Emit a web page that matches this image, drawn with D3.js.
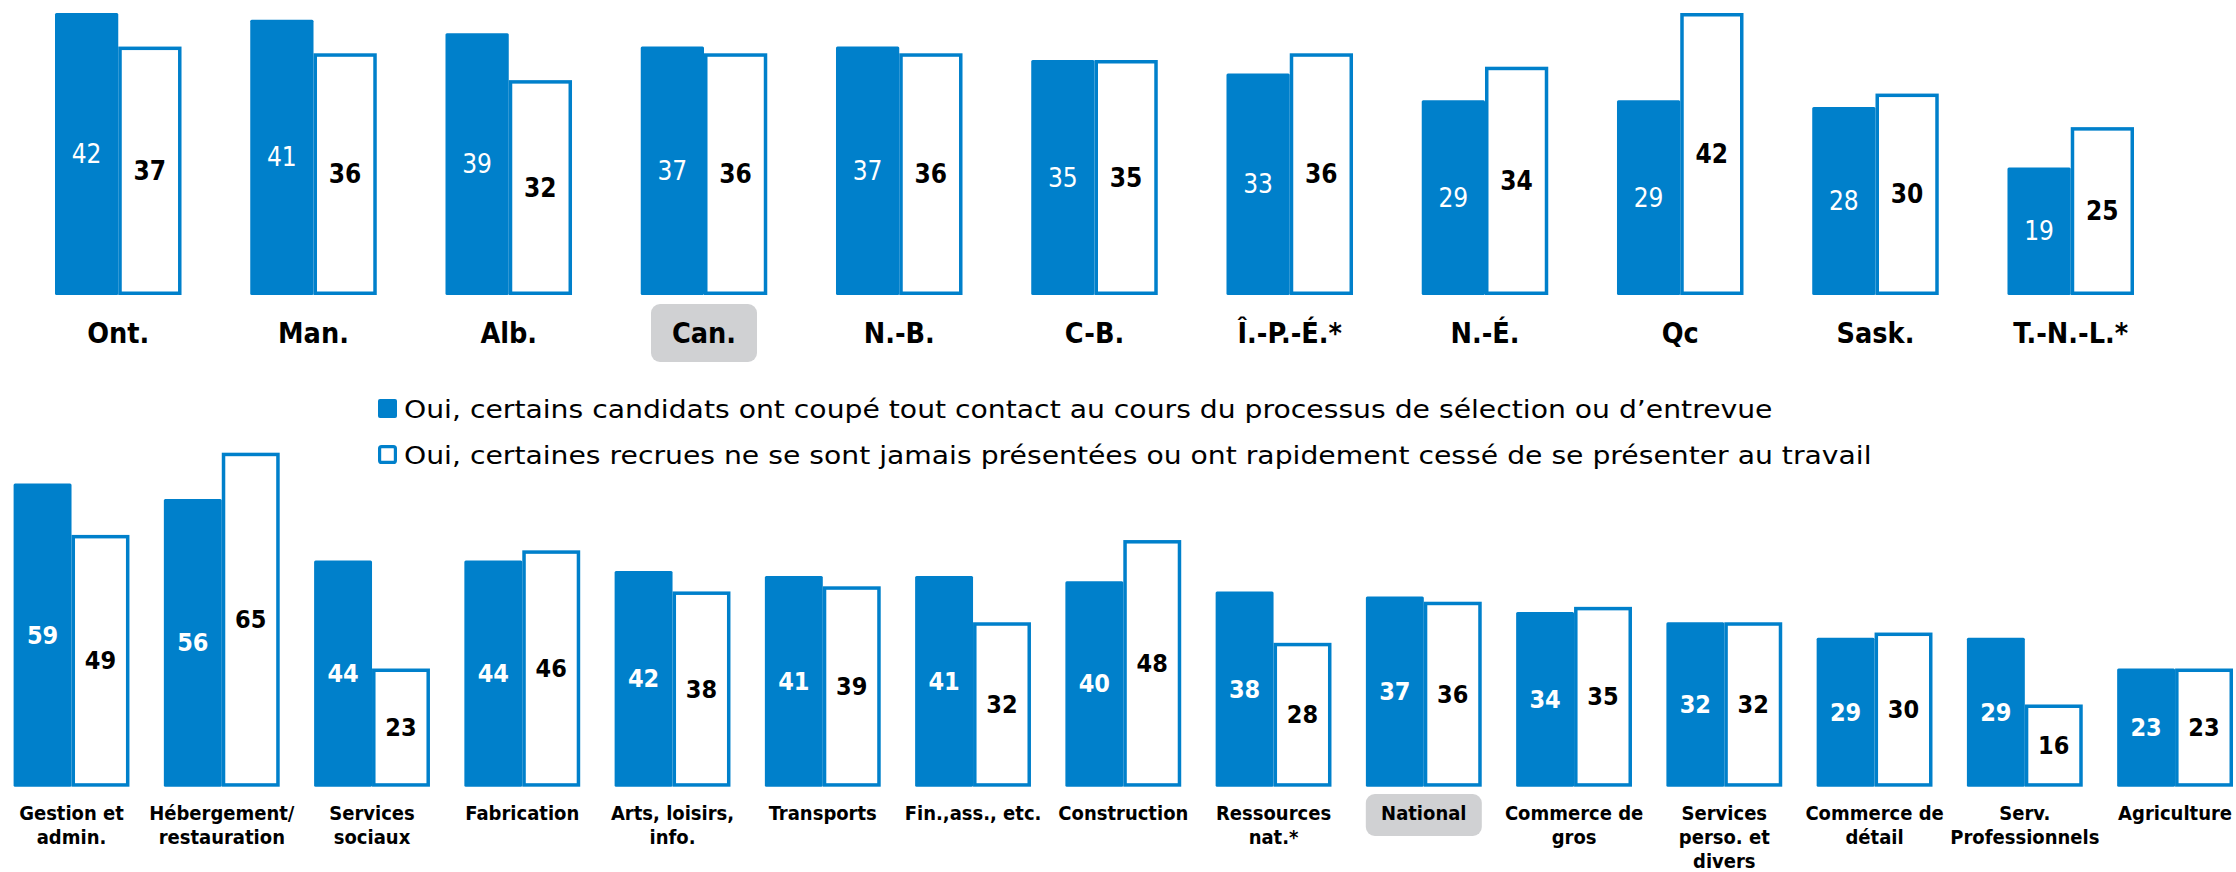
<!DOCTYPE html>
<html>
<head>
<meta charset="utf-8">
<script src="https://cdn.jsdelivr.net/npm/d3@7"></script>
<style>
  body { margin: 0; background: #fff; }
  svg { display: block; }
</style>
</head>
<body>
<svg id="chart"></svg>
<script>
// provinces (top panel)
var provinces = ["Ont.", "Man.", "Alb.", "Can.", "N.-B.", "C-B.", "Î.-P.-É.*", "N.-É.", "Qc", "Sask.", "T.-N.-L.*"]
var provCandidats = [42, 41, 39, 37, 37, 35, 33, 29, 29, 28, 19]
var provRecrues = [37, 36, 32, 36, 36, 35, 36, 34, 42, 30, 25]

// sectors (bottom panel), "|" marks a line break in the tick label
var secteurs = ["Gestion et|admin.", "Hébergement/|restauration", "Services|sociaux", "Fabrication",
  "Arts, loisirs,|info.", "Transports", "Fin.,ass., etc.", "Construction", "Ressources|nat.*",
  "National", "Commerce de|gros", "Services|perso. et|divers", "Commerce de|détail",
  "Serv.|Professionnels", "Agriculture"]
var secCandidats = [59, 56, 44, 44, 42, 41, 41, 40, 38, 37, 34, 32, 29, 29, 23]
var secRecrues = [49, 65, 23, 46, 38, 39, 32, 48, 28, 36, 35, 32, 30, 16, 23]

var legendLabels = [
  "Oui, certains candidats ont coupé tout contact au cours du processus de sélection ou d’entrevue",
  "Oui, certaines recrues ne se sont jamais présentées ou ont rapidement cessé de se présenter au travail"
]

var blue = "#0080cb",
    grey = "#d0d1d3",
    sw = 3.5,
    condensed = "'DejaVu Sans Condensed', 'DejaVu Sans', sans-serif"

var width = 2236, height = 872

var svg = d3.select("#chart")
  .attr("width", width)
  .attr("height", height)
  .style("font-family", condensed)

function panel(cfg) {
  var x0 = d3.scaleBand()
    .domain(cfg.cats)
    .range(cfg.xRange)
    .paddingInner(cfg.pad)
    .paddingOuter(0)

  var x1 = d3.scaleBand()
    .domain(["candidats", "recrues"])
    .range([0, x0.bandwidth()])

  var y = d3.scaleLinear()
    .domain([0, cfg.max])
    .range([cfg.base, cfg.top])

  var data = cfg.cats.map(function(c, i) {
    return {cat: c, a: cfg.a[i], b: cfg.b[i]}
  })

  var grp = svg.append("g")
    .selectAll("g")
    .data(data)
    .join("g")
    .attr("transform", function(d) { return "translate(" + x0(d.cat) + ",0)" })

  // grey box behind the total (Canada / National)
  grp.filter(function(d) { return d.cat == cfg.highlight })
    .append("rect")
    .attr("x", x0.bandwidth() / 2 - cfg.box.w / 2)
    .attr("y", cfg.box.y)
    .attr("width", cfg.box.w)
    .attr("height", cfg.box.h)
    .attr("rx", 9)
    .attr("fill", grey)

  // filled bars
  grp.append("rect")
    .attr("x", x1("candidats"))
    .attr("y", function(d) { return y(d.a) })
    .attr("width", x1.bandwidth())
    .attr("height", function(d) { return y(0) - y(d.a) })
    .attr("rx", 1.5)
    .attr("fill", blue)

  // outlined bars
  grp.append("rect")
    .attr("x", x1("recrues") + sw / 2)
    .attr("y", function(d) { return y(d.b) + sw / 2 })
    .attr("width", x1.bandwidth() - sw)
    .attr("height", function(d) { return y(0) - y(d.b) - sw })
    .attr("fill", "#fff")
    .attr("stroke", blue)
    .attr("stroke-width", sw)

  // value labels
  grp.append("text")
    .attr("x", x1("candidats") + x1.bandwidth() / 2)
    .attr("y", function(d) { return (y(d.a) + y(0)) / 2 })
    .attr("text-anchor", "middle")
    .attr("dominant-baseline", "central")
    .attr("fill", "#fff")
    .attr("font-weight", cfg.whiteWeight)
    .style("font-size", cfg.valueSize + "px")
    .text(function(d) { return d.a })

  grp.append("text")
    .attr("x", x1("recrues") + x1.bandwidth() / 2)
    .attr("y", function(d) { return (y(d.b) + y(0)) / 2 })
    .attr("text-anchor", "middle")
    .attr("dominant-baseline", "central")
    .attr("fill", "#000")
    .attr("font-weight", "bold")
    .style("font-size", cfg.valueSize + "px")
    .text(function(d) { return d.b })

  // category labels
  grp.append("text")
    .attr("text-anchor", "middle")
    .attr("font-weight", "bold")
    .attr("fill", "#000")
    .style("font-size", cfg.labelSize + "px")
    .selectAll("tspan")
    .data(function(d) { return d.cat.split("|") })
    .join("tspan")
    .attr("x", x0.bandwidth() / 2)
    .attr("y", function(d, i) { return cfg.labelY + i * cfg.lineH })
    .text(function(d) { return d })
}

// top panel: provinces
panel({
  cats: provinces, a: provCandidats, b: provRecrues,
  xRange: [55, 2134], pad: 0.352,
  max: 42, base: 295, top: 13,
  whiteWeight: "normal", valueSize: 26,
  labelSize: 28.5, labelY: 343, lineH: 30,
  highlight: "Can.", box: {w: 106, y: 304, h: 58}
})

// bottom panel: sectors
panel({
  cats: secteurs, a: secCandidats, b: secRecrues,
  xRange: [13.6, 2233], pad: 0.229,
  max: 65, base: 786.7, top: 452.7,
  whiteWeight: "bold", valueSize: 25,
  labelSize: 20, labelY: 820, lineH: 24,
  highlight: "National", box: {w: 116, y: 794, h: 42}
})

// legend
var legend = svg.append("g")
  .selectAll("g")
  .data(legendLabels)
  .join("g")
  .attr("transform", function(d, i) { return "translate(378," + (399 + i * 46) + ")" })

legend.append("rect")
  .attr("x", function(d, i) { return i ? 1.6 : 0 })
  .attr("y", function(d, i) { return i ? 1.6 : 0 })
  .attr("width", function(d, i) { return i ? 15.8 : 19 })
  .attr("height", function(d, i) { return i ? 15.8 : 19 })
  .attr("rx", 2)
  .attr("fill", function(d, i) { return i ? "#fff" : blue })
  .attr("stroke", function(d, i) { return i ? blue : "none" })
  .attr("stroke-width", 3.2)

legend.append("text")
  .attr("transform", "translate(26,18.5) scale(1.13,1)")
  .style("font-family", "'DejaVu Sans', sans-serif")
  .style("font-size", "25px")
  .attr("fill", "#000")
  .text(function(d) { return d })
</script>
</body>
</html>
